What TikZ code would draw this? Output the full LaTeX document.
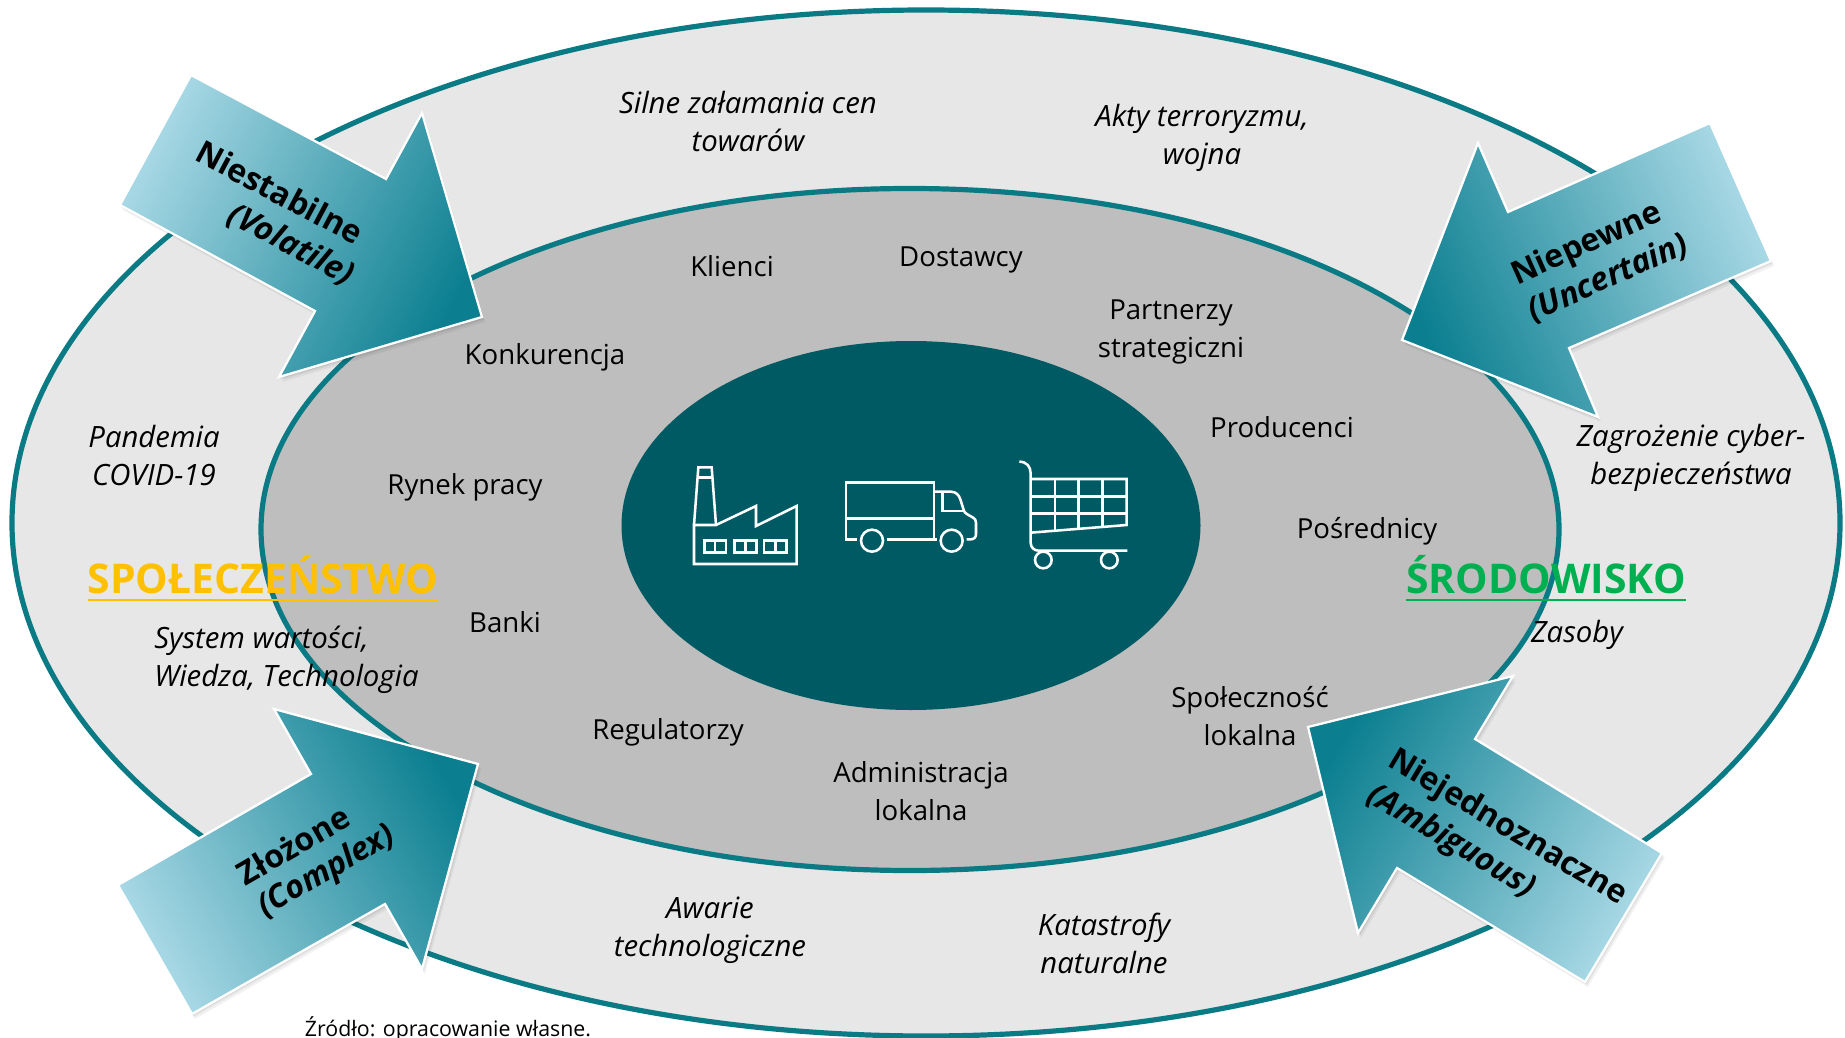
\documentclass[tikz,border=0pt]{standalone}
\usepackage{fontspec}
\setmainfont{Open Sans}
\definecolor{ringteal}{HTML}{0A7A85}
\definecolor{outerfill}{HTML}{E7E7E7}
\definecolor{midfill}{HTML}{BEBEBE}
\definecolor{corefill}{HTML}{005A64}
\definecolor{arrowlight}{HTML}{A8D8E5}
\definecolor{arrowmid}{HTML}{7DBBCA}
\definecolor{arrowdark}{HTML}{0B7F90}
\definecolor{gold}{HTML}{FFC000}
\definecolor{envgreen}{HTML}{00B050}
\tikzset{
  ring/.style={draw=ringteal,line width=3.9pt},
  lbl/.style={inner sep=0pt,align=center,text=black,font=\fontsize{20.7}{28.5}\selectfont},
  ital/.style={lbl,font=\fontsize{22}{28.5}\selectfont\itshape},
  headline/.style={inner sep=0pt,font=\fontsize{30.7}{36}\selectfont\bfseries},
  arrowbold/.style={inner sep=0pt,font=\fontsize{24}{28}\selectfont\bfseries},
  arrowital/.style={inner sep=0pt,font=\fontsize{24}{28}\selectfont\bfseries\itshape},
  icon/.style={draw=white,line width=1.9pt,line join=miter},
}
\newcommand{\thickul}[1]{\setbox0\hbox{#1}\rlap{\copy0}\rule[-5.8pt]{\wd0}{1.6pt}}
\newcommand{\vucaarrow}[2]{%
  \fill[black,opacity=.05,shift={(1,2)}] #1;
  \fill[black,opacity=.05,shift={(2,3)}] #1;
  \fill[black,opacity=.05,shift={(3,5)}] #1;
  \shade[left color=arrowlight,middle color=arrowmid,right color=arrowdark,shading angle=#2] #1;
  \draw[white,line width=1.7pt,line join=miter] #1;
}
\begin{document}
\begin{tikzpicture}[x=0.75pt,y=-0.75pt]
\useasboundingbox (0,0) rectangle (1845,1038);
\clip (0,0) rectangle (1845,1038);
% rings
\path[ring,fill=outerfill] (926,523) ellipse [x radius=914,y radius=513];
\path[ring,fill=midfill] (910,529.5) ellipse [x radius=649,y radius=341];
\path[fill=corefill] (911,525.5) ellipse [x radius=289.5,y radius=184.5];
% icons
\begin{scope}[shift={(660,430)},scale=1/3]
  % factory
  \draw[icon] (102,402) -- (102,285) -- (168,285) -- (288,228) -- (288,288) -- (410,228) -- (410,402) -- cycle;
  \draw[icon] (102,285) -- (115,112) -- (155,112) -- (168,285);
  \draw[icon] (114,142) -- (156,142);
  \draw[icon] (133,331) rectangle (198,368);
  \draw[icon] (165,331) -- (165,368);
  \draw[icon] (223,331) rectangle (290,368);
  \draw[icon] (257,331) -- (257,368);
  \draw[icon] (312,331) rectangle (380,368);
  \draw[icon] (346,331) -- (346,368);
  % truck
  \draw[icon] (590,328) -- (558,328) -- (558,158) -- (822,158) -- (822,328);
  \draw[icon] (558,265) -- (822,265);
  \draw[icon] (682,328) -- (830,328);
  \draw[icon] (636,332) ellipse [x radius=33,y radius=33];
  \draw[icon] (875,332) ellipse [x radius=33,y radius=33];
  \draw[icon] (822,185) -- (872,185) .. controls (888,185) and (897,195) .. (901,208) -- (912,243) .. controls (915,250) and (925,255) .. (938,262) .. controls (945,266) and (948,270) .. (948,278) -- (948,312) .. controls (948,322) and (942,328) .. (932,328) -- (920,328);
  \draw[icon] (848,185) -- (848,243) -- (912,243);
  % cart
  \draw[icon] (1078,95) .. controls (1100,95) and (1112,110) .. (1112,130) -- (1112,338) .. controls (1112,352) and (1122,362) .. (1136,362) -- (1402,362);
  \draw[icon] (1112,147) -- (1400,147) -- (1400,285) -- (1112,308);
  \draw[icon] (1112,200) -- (1400,200);
  \draw[icon] (1112,250) -- (1400,250);
  \draw[icon] (1185,147) -- (1185,302);
  \draw[icon] (1255,147) -- (1255,296);
  \draw[icon] (1328,147) -- (1328,290);
  \draw[icon] (1150,390) ellipse [x radius=25,y radius=25];
  \draw[icon] (1348,390) ellipse [x radius=25,y radius=25];
\end{scope}
% arrows
\vucaarrow{(191,75) -- (386,179) -- (422,113) -- (482,317) -- (279,377) -- (315,311) -- (120,205) -- cycle}{63}
\vucaarrow{(1710,123) -- (1508,212) -- (1478,143) -- (1402,340) -- (1598,417) -- (1569,348) -- (1771,261) -- cycle}{293}
\vucaarrow{(1308,727) -- (1513,676) -- (1475,739) -- (1662,853) -- (1585,982) -- (1397,868) -- (1358,933) -- cycle}{239}
\vucaarrow{(478,764) -- (274,709) -- (311,774) -- (118,885) -- (192,1014) -- (385,904) -- (422,969) -- cycle}{120}
% arrow labels
\node[arrowbold,rotate=-28] (a1) at (280,192) {Niestabilne};
\node[arrowital,rotate=-28] (a1b) at (291,245) {(Volatile)};
\node[arrowbold,rotate=24] (a2) at (1587,245) {Niepewne};
\node[arrowital,rotate=24] (a2b) at (1608,278) {(Uncertain)};
\node[arrowbold,rotate=-31] (a3) at (1507,828) {Niejednoznaczne};
\node[arrowital,rotate=-31] (a3b) at (1451,842) {(Ambiguous)};
\node[arrowbold,rotate=30] (a4) at (293,845) {Złożone};
\node[arrowital,rotate=30] (a4b) at (327,872) {(Complex)};
% outer texts
\node[ital] (t1) at (748,122) {Silne załamania cen\\towarów};
\node[ital] (t2) at (1202,138) {Akty terroryzmu,\\wojna};
\node[ital] (t3) at (154,455) {Pandemia\\COVID-19};
\node[ital] (t4) at (1691,457.5) {Zagrożenie cyber-\\bezpieczeństwa};
\node[ital,anchor=west,align=left] (t5) at (154,660) {System wartości,\\Wiedza, Technologia};
\node[ital] (t6) at (1577,635) {Zasoby};
\node[ital] (t7) at (710,930) {Awarie\\technologiczne};
\node[ital] (t8) at (1104,943) {Katastrofy\\naturalne};
% headlines
\node[headline,text=gold] (soc) at (263,578) {\thickul{SPOŁECZEŃSTWO}};
\node[headline,text=envgreen] (env) at (1546,578) {\thickul{ŚRODOWISKO}};
% inner texts
\node[lbl] (n1) at (732,266) {Klienci};
\node[lbl] (n2) at (961,260) {Dostawcy};
\node[lbl] (n3) at (1171,332) {Partnerzy\\strategiczni};
\node[lbl] (n4) at (545,357) {Konkurencja};
\node[lbl] (n5) at (465,487) {Rynek pracy};
\node[lbl] (n6) at (1282,427) {Producenci};
\node[lbl] (n7) at (1367,531) {Pośrednicy};
\node[lbl] (n8) at (505,622) {Banki};
\node[lbl] (n9) at (668,732) {Regulatorzy};
\node[lbl] (n10) at (921,791) {Administracja\\lokalna};
\node[lbl] (n11) at (1250,716) {Społeczność\\lokalna};
\node[inner sep=0pt,font=\fontsize{16}{20}\selectfont] (src) at (448,1029) {Źródło: opracowanie własne.};
\end{tikzpicture}
\end{document}
